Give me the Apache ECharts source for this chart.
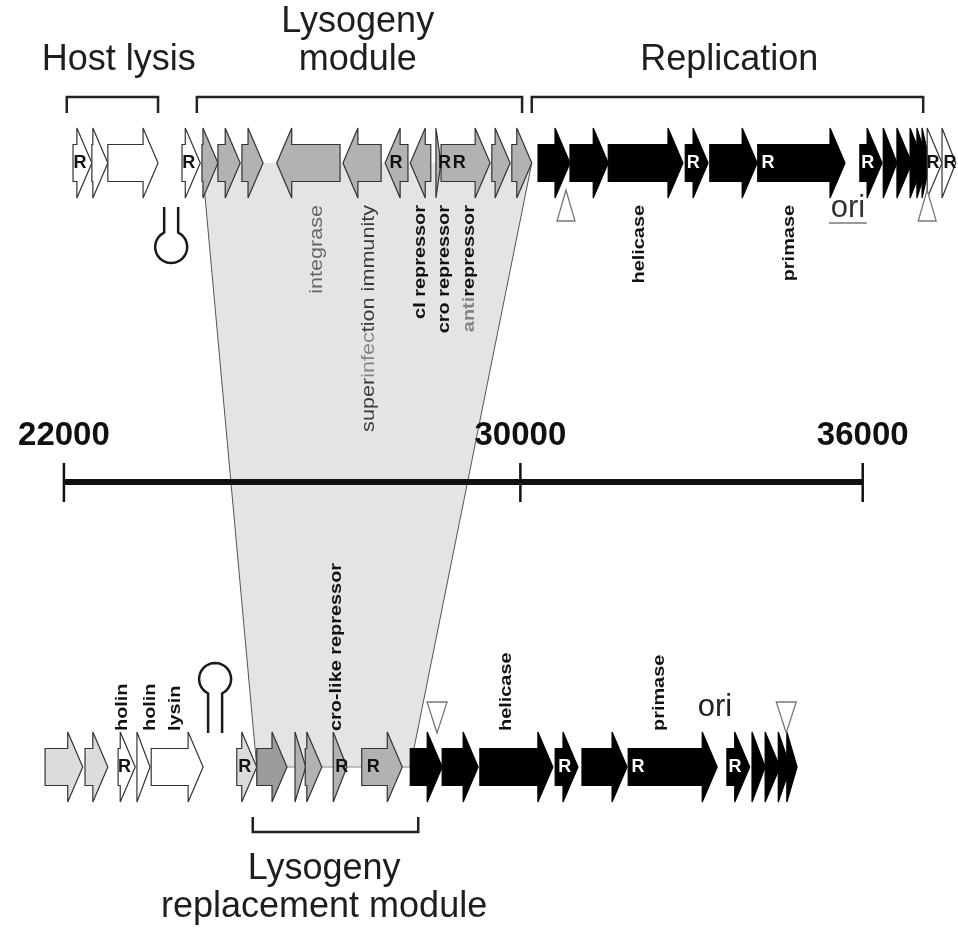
<!DOCTYPE html>
<html><head><meta charset="utf-8">
<script src="https://cdn.jsdelivr.net/npm/echarts@6/dist/echarts.min.js"></script>
<style>html,body{margin:0;padding:0;background:#fff}#c{width:958px;height:930px}</style>
</head><body><div id="c"></div>
<script>
// ================= DATA (genome coordinates, bp) =================
// genes: [start, end, strand, class]
const topGenes = [
  [22160, 22490, 1, 'lysis'], [22490, 22770, 1, 'lysis'], [22770, 23650, 1, 'lysis'],
  [24070, 24390, 1, 'lysis'],
  [24420, 24700, 1, 'lyso'], [24700, 25090, 1, 'lyso'], [25120, 25490, 1, 'lyso'],
  [25730, 26840, -1, 'lyso'], [26890, 27560, -1, 'lyso'], [27630, 28030, -1, 'lyso'],
  [28070, 28430, -1, 'lyso'], [28520, 28610, 1, 'lyso'], [28610, 29470, 1, 'lyso'],
  [29500, 29820, 1, 'lyso'], [29850, 30200, 1, 'lyso'],
  [30310, 30870, 1, 'rep'], [30870, 31540, 1, 'rep'], [31540, 32850, 1, 'rep'],
  [32890, 33290, 1, 'rep'], [33320, 34150, 1, 'rep'], [34160, 35690, 1, 'rep'],
  [35950, 36340, 1, 'rep'], [36360, 36600, 1, 'rep'], [36600, 36860, 1, 'rep'],
  [36830, 37070, 1, 'rep'], [36950, 37140, 1, 'rep'], [37040, 37180, 1, 'rep'],
  [37130, 37390, 1, 'lysis'], [37390, 37630, 1, 'lysis']
];
const bottomGenes = [
  [21670, 22330, 1, 'other'], [22370, 22770, 1, 'other'],
  [22950, 23250, 1, 'lysis'], [23280, 23510, 1, 'lysis'], [23530, 24440, 1, 'lysis'],
  [25030, 25380, 1, 'other'], [25380, 25910, 1, 'lysoDark'],
  [26050, 26240, 1, 'lyso'], [26230, 26520, 1, 'lyso'], [26720, 26960, 1, 'lyso'],
  [27220, 27930, 1, 'lyso'],
  [28070, 28630, 1, 'rep'], [28630, 29260, 1, 'rep'], [29290, 30570, 1, 'rep'],
  [30610, 31010, 1, 'rep'], [31080, 31870, 1, 'rep'], [31890, 33450, 1, 'rep'],
  [33620, 34020, 1, 'rep'], [34060, 34290, 1, 'rep'], [34290, 34550, 1, 'rep'],
  [34520, 34730, 1, 'rep'], [34670, 34850, 1, 'rep']
];
const topRSites = [22280, 24190, 27820, 28670, 28930, 33030, 34340, 36090, 37230, 37530];
const bottomRSites = [23060, 25170, 26870, 27420, 30780, 32060, 33760];
const topMarkers = [30800, 37130];
const bottomMarkers = [28540, 34660];
const topTerminators = [23880];
const bottomTerminators = [24650];
const bottomBackbone = [[25030, 28070]];
const homologyTop = [24420, 30200];
const homologyBottom = [25380, 28070];
const topGeneNames = ['integrase', 'superinfection immunity', 'cI repressor', 'cro repressor', 'antirepressor', 'helicase', 'primase'];
const topGeneNamePos = [26440, 27340, 28240, 28660, 29110, 32090, 34720];
const bottomGeneNames = ['holin', 'holin', 'lysin', 'cro-like repressor', 'helicase', 'primase'];
const bottomGeneNamePos = [23030, 23520, 23960, 26770, 29750, 32440];
const topOri = [35740];
const bottomOri = [33410];
const topModules = [[22050, 23650], [24330, 30030], [30200, 37060]];
const topModuleNames = [['Host lysis'], ['Lysogeny', 'module'], ['Replication']];
const topModuleNamePos = [22960, 27150, 33660];
const bottomModules = [[25310, 28210]];
const bottomModuleNames = [['Lysogeny', 'replacement module']];
const bottomModuleNamePos = [26560];
const scaleTicks = [22000, 30000, 36000];
const scaleTickLabels = ['22000', '30000', '36000'];

// ================= LAYOUT / STYLE =================
const FONT = "'Liberation Sans', Arial, Helvetica, sans-serif";
const T = {
  topRow: 163, botRow: 767, bodyHalf: 18.5, headHalf: 35, headLen: 15,
  fills: { lysis: '#ffffff', other: '#dcdcdc', lyso: '#b2b2b2', lysoDark: '#9c9c9c', rep: '#000000' },
  stroke: '#333',
  topBracketY: 97, topBracketTick: 113, botBracketY: 832, botBracketTick: 817,
  topLabelEnd: 205, botLabelStart: 731,
  topTitleBase: [73, 35], // single-line / first of two lines
  botTitleBase: [882, 920],
  titleSize: 36,
  scaleY: 482, scaleTickTop: 463, scaleTickBot: 502, scaleLabelBase: 447, scaleFont: 33,
  topMarker: { apex: 190, base: 221, half: 9 },
  botMarker: { apex: 733, base: 702, half: 10 },
  topTerm: { stemEnd: 207, cy: 247 },
  botTerm: { stemEnd: 733, cy: 679 },
  termR: 16, termGap: 7,
  topOriBase: 219, botOriBase: 718, oriSize: 31
};
const regularLabels = { 'integrase': true, 'superinfection immunity': true };
const richLabels = {
  'antirepressor': '{g|anti}{k|repressor}',
  'superinfection immunity': '{k|super}{g|infec}{k|tion immunity}'
};

const chart = echarts.init(document.getElementById('c'), null, { width: 958, height: 930 });

function txt(x, y, text, o) {
  const style = {
    text: text, fill: o.fill || '#1a1a1a', fontSize: o.size, fontWeight: o.weight || 'normal',
    fontFamily: FONT, align: o.align || 'center', verticalAlign: 'middle'
  };
  if (o.rich) style.rich = o.rich;
  return { type: 'text', x: x, y: y, rotation: o.rot || 0, scaleX: o.sx || 1, scaleY: 1, style: style };
}
const pts1 = arr => arr.map(v => [v, 0]);

function geneSeries(genes, rowY) {
  return {
    type: 'custom', z: 3,
    data: genes.map(g => [g[0], g[1], g[2]]),
    renderItem: function (params, api) {
      const g = genes[params.dataIndex];
      const s = api.coord([api.value(0), rowY]), e = api.coord([api.value(1), rowY]);
      const strand = api.value(2);
      const y = s[1], a = s[0], b = e[0];
      const h = Math.min(T.headLen, b - a);
      const B = T.bodyHalf, H = T.headHalf;
      let p;
      if (strand > 0) { const n = b - h; p = [[a, y - B], [n, y - B], [n, y - H], [b, y], [n, y + H], [n, y + B], [a, y + B]]; }
      else { const n = a + h; p = [[b, y - B], [n, y - B], [n, y - H], [a, y], [n, y + H], [n, y + B], [b, y + B]]; }
      const cls = g[3];
      return { type: 'polygon', shape: { points: p },
        style: { fill: T.fills[cls], stroke: cls === 'rep' ? '#000' : T.stroke, lineWidth: 1.2, lineJoin: 'miter', miterLimit: 4 } };
    }
  };
}

function rSeries(sites, genes, rowY) {
  return {
    type: 'custom', z: 4, data: pts1(sites),
    renderItem: function (params, api) {
      const v = api.value(0);
      let cls = 'lysis';
      genes.forEach(g => { if (v >= g[0] && v <= g[1]) cls = g[3]; });
      const c = api.coord([v, rowY]);
      return txt(c[0], c[1], 'R', { size: 18, weight: 'bold', fill: cls === 'rep' ? '#fff' : '#111' });
    }
  };
}

function markerSeries(list, m) {
  return {
    type: 'custom', z: 5, data: pts1(list),
    renderItem: function (params, api) {
      const a = api.coord([api.value(0), m.apex]), b = api.coord([api.value(0), m.base]);
      return { type: 'polygon', shape: { points: [[a[0], a[1]], [a[0] - m.half, b[1]], [a[0] + m.half, b[1]]] },
        style: { fill: '#fff', stroke: '#777', lineWidth: 1.3 } };
    }
  };
}

function termSeries(list, t, opening) {
  return {
    type: 'custom', z: 5, data: pts1(list),
    renderItem: function (params, api) {
      const c = api.coord([api.value(0), t.cy]);
      const cx = c[0], cy = c[1], r = T.termR, g = T.termGap;
      const beta = Math.asin(g / r);
      const om = opening; // direction of the stems from loop centre
      const p = [];
      const d = Math.sqrt(r * r - g * g);
      const sy = cy + Math.sin(om) * d;
      p.push([cx + g, t.stemEnd]);
      const N = 40;
      for (let i = 0; i <= N; i++) {
        const th = om + beta * (om < 0 ? 1 : -1) + (om < 0 ? 1 : -1) * (i / N) * (2 * Math.PI - 2 * beta);
        p.push([cx + r * Math.cos(th), cy + r * Math.sin(th)]);
      }
      p.push([cx - g, t.stemEnd]);
      return { type: 'polyline', shape: { points: p }, style: { fill: null, stroke: '#1a1a1a', lineWidth: 2.5 } };
    }
  };
}

function labelSeries(names, pos, yAnchor, align) {
  return {
    type: 'custom', z: 6, data: pts1(pos),
    renderItem: function (params, api) {
      const name = names[params.dataIndex];
      const c = api.coord([api.value(0), yAnchor]);
      const regular = !!regularLabels[name];
      const size = regular ? 18 : 17;
      const weight = regular ? 'normal' : 'bold';
      const o = { size: size, weight: weight, rot: Math.PI / 2, sx: regular ? 1.2 : 1.17, align: align,
        fill: name === 'integrase' ? '#666' : '#111' };
      let text = name;
      if (richLabels[name]) {
        text = richLabels[name];
        o.rich = {
          g: { fill: '#858585', fontSize: size, fontWeight: weight, fontFamily: FONT },
          k: { fill: regular ? '#3a3a3a' : '#111', fontSize: size, fontWeight: weight, fontFamily: FONT }
        };
      }
      return txt(c[0], c[1], text, o);
    }
  };
}

function bracketSeries(mods, yLine, yTick) {
  return {
    type: 'custom', z: 6, data: mods.map(m => [m[0], m[1]]),
    renderItem: function (params, api) {
      const a = api.coord([api.value(0), yLine]), b = api.coord([api.value(1), yLine]);
      return { type: 'polyline', shape: { points: [[a[0], yTick], [a[0], a[1]], [b[0], b[1]], [b[0], yTick]] },
        style: { fill: null, stroke: '#222', lineWidth: 2.5 } };
    }
  };
}

function titleSeries(names, pos, bases) {
  return {
    type: 'custom', z: 6, data: pts1(pos),
    renderItem: function (params, api) {
      const lines = names[params.dataIndex];
      const children = [];
      lines.forEach((ln, i) => {
        const base = lines.length === 1 ? bases[0] : (bases === T.topTitleBase ? [bases[1], bases[0]][i] : bases[i]);
        const c = api.coord([api.value(0), base - 0.35 * T.titleSize]);
        children.push(txt(c[0], c[1], ln, { size: T.titleSize, fill: '#1e1e1e' }));
      });
      return { type: 'group', children: children };
    }
  };
}

const series = [
  // homology trapezoid
  {
    type: 'custom', z: 1, data: [[homologyTop[0], homologyTop[1], homologyBottom[0], homologyBottom[1]]],
    renderItem: function (params, api) {
      const t0 = api.coord([api.value(0), T.topRow]), t1 = api.coord([api.value(1), T.topRow]);
      const b0 = api.coord([api.value(2), T.botRow]), b1 = api.coord([api.value(3), T.botRow]);
      return { type: 'group', children: [
        { type: 'polygon', shape: { points: [t0, t1, b1, b0] }, style: { fill: '#e4e4e4' } },
        { type: 'line', shape: { x1: t0[0], y1: t0[1], x2: b0[0], y2: b0[1] }, style: { stroke: '#555', lineWidth: 1 } },
        { type: 'line', shape: { x1: t1[0], y1: t1[1], x2: b1[0], y2: b1[1] }, style: { stroke: '#555', lineWidth: 1 } }
      ] };
    }
  },
  // bottom backbone
  {
    type: 'custom', z: 2, data: bottomBackbone.map(b => [b[0], b[1]]),
    renderItem: function (params, api) {
      const a = api.coord([api.value(0), T.botRow]), b = api.coord([api.value(1), T.botRow]);
      return { type: 'line', shape: { x1: a[0], y1: a[1], x2: b[0], y2: b[1] }, style: { stroke: '#888', lineWidth: 1.2 } };
    }
  },
  geneSeries(topGenes, T.topRow),
  geneSeries(bottomGenes, T.botRow),
  rSeries(topRSites, topGenes, T.topRow),
  rSeries(bottomRSites, bottomGenes, T.botRow),
  markerSeries(topMarkers, T.topMarker),
  markerSeries(bottomMarkers, T.botMarker),
  termSeries(topTerminators, T.topTerm, -Math.PI / 2),
  termSeries(bottomTerminators, T.botTerm, Math.PI / 2),
  labelSeries(topGeneNames, topGeneNamePos, T.topLabelEnd, 'right'),
  labelSeries(bottomGeneNames, bottomGeneNamePos, T.botLabelStart, 'left'),
  // ori
  {
    type: 'custom', z: 6, data: pts1(topOri),
    renderItem: function (params, api) {
      const c = api.coord([api.value(0), T.topOriBase - 0.35 * T.oriSize]);
      return { type: 'group', children: [
        txt(c[0], c[1], 'ori', { size: T.oriSize, fill: '#333' }),
        { type: 'line', shape: { x1: c[0] - 19, y1: T.topOriBase + 4, x2: c[0] + 19, y2: T.topOriBase + 4 }, style: { stroke: '#999', lineWidth: 2 } }
      ] };
    }
  },
  {
    type: 'custom', z: 6, data: pts1(bottomOri),
    renderItem: function (params, api) {
      const c = api.coord([api.value(0), T.botOriBase - 0.35 * T.oriSize]);
      return txt(c[0], c[1], 'ori', { size: T.oriSize, fill: '#222' });
    }
  },
  bracketSeries(topModules, T.topBracketY, T.topBracketTick),
  bracketSeries(bottomModules, T.botBracketY, T.botBracketTick),
  titleSeries(topModuleNames, topModuleNamePos, T.topTitleBase),
  titleSeries(bottomModuleNames, bottomModuleNamePos, T.botTitleBase),
  // scale bar
  {
    type: 'custom', z: 2, data: [[scaleTicks[0], scaleTicks[scaleTicks.length - 1]]],
    renderItem: function (params, api) {
      const a = api.coord([api.value(0), T.scaleY]), b = api.coord([api.value(1), T.scaleY]);
      return { type: 'line', shape: { x1: a[0], y1: a[1], x2: b[0], y2: b[1] }, style: { stroke: '#111', lineWidth: 6 } };
    }
  },
  {
    type: 'custom', z: 2, data: pts1(scaleTicks),
    renderItem: function (params, api) {
      const c = api.coord([api.value(0), T.scaleY]);
      const l = api.coord([api.value(0), T.scaleLabelBase - 0.35 * T.scaleFont]);
      return { type: 'group', children: [
        { type: 'line', shape: { x1: c[0], y1: T.scaleTickTop, x2: c[0], y2: T.scaleTickBot }, style: { stroke: '#111', lineWidth: 2.5 } },
        txt(l[0], l[1], scaleTickLabels[params.dataIndex], { size: T.scaleFont, weight: 'bold', fill: '#111' })
      ] };
    }
  }
];

chart.setOption({
  animation: false,
  backgroundColor: '#ffffff',
  grid: { left: 0, right: 0, top: 0, bottom: 0 },
  xAxis: { type: 'value', min: 20880, max: 37670, show: false },
  yAxis: { type: 'value', min: 0, max: 930, inverse: true, show: false },
  series: series
});
</script>
</body></html>
